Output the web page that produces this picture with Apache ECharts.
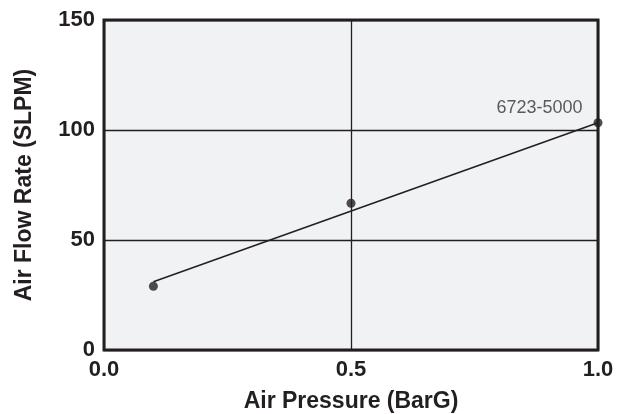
<!DOCTYPE html>
<html><head><meta charset="utf-8">
<script src="https://cdn.jsdelivr.net/npm/echarts@6/dist/echarts.min.js"></script>
<style>html,body{margin:0;padding:0;background:#fff}#c{width:619px;height:414px}</style>
</head><body><div id="c"></div>
<script>
const pressure = [0.1, 0.5, 1.0];
const flowRate = [29, 66.7, 103.3];
const trendX = [0.1, 1.0];
const trendY = [31, 103.3];
const seriesLabel = '6723-5000';
const xTicks = [0, 0.5, 1.0];
const yTicks = [0, 50, 100, 150];

const ink = '#231f20';
const font = '"Liberation Sans", Arial, sans-serif';
const chart = echarts.init(document.getElementById('c'));
chart.setOption({
  backgroundColor: '#fff',
  animation: false,
  grid: {left: 104, right: 21, top: 20, bottom: 64, show: true,
    containLabel: false, outerBoundsMode: 'none',
    backgroundColor: '#f1f2f4', borderColor: ink, borderWidth: 3},
  xAxis: {type: 'value', min: 0, max: 1, interval: 0.5,
    name: 'Air Pressure (BarG)', nameLocation: 'middle', nameGap: 40,
    nameTextStyle: {fontFamily: font, fontWeight: 'bold', fontSize: 23, color: ink},
    axisLine: {show: false}, axisTick: {show: false},
    axisLabel: {fontFamily: font, fontWeight: 'bold', fontSize: 22, color: ink, margin: 9,
      formatter: v => v.toFixed(1)},
    splitLine: {show: true, lineStyle: {color: ink, width: 1.3}}},
  yAxis: {type: 'value', min: 0, max: 150, interval: 50,
    name: 'Air Flow Rate (SLPM)', nameLocation: 'middle', nameGap: 68,
    nameTextStyle: {fontFamily: font, fontWeight: 'bold', fontSize: 23, color: ink},
    axisLine: {show: false}, axisTick: {show: false},
    axisLabel: {fontFamily: font, fontWeight: 'bold', fontSize: 22, color: ink, margin: 9},
    splitLine: {show: true, lineStyle: {color: ink, width: 1.3}}},
  series: [
    {type: 'line', data: trendX.map((x, i) => [x, trendY[i]]), showSymbol: false,
      lineStyle: {color: ink, width: 1.5}, silent: true},
    {type: 'scatter', data: pressure.map((x, i) => [x, flowRate[i]]), symbolSize: 9,
      itemStyle: {color: ink},
      label: {show: true, formatter: p => p.dataIndex === pressure.length - 1 ? seriesLabel : '',
        position: [-11, -10], align: 'right', verticalAlign: 'middle',
        fontFamily: font, fontSize: 18, color: '#333'}}
  ]
});
</script></body></html>
